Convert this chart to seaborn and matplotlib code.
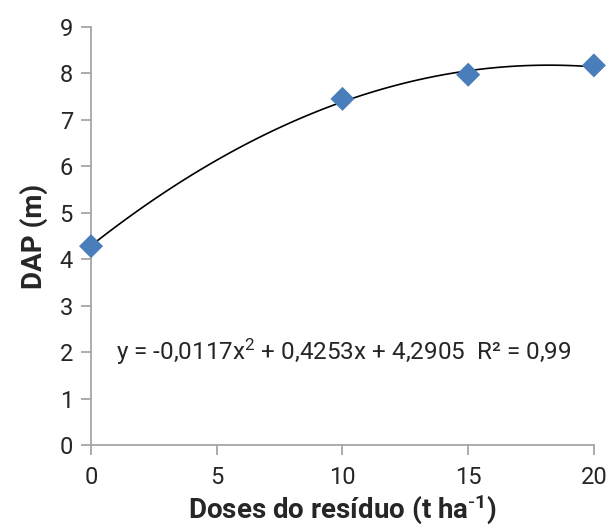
import matplotlib
matplotlib.use("Agg")
import matplotlib.pyplot as plt
import seaborn as sns
import pandas as pd

# Data
doses = [0, 10, 15, 20]
dap = [4.28, 7.45, 7.97, 8.17]
x_ticks = [0, 5, 10, 15, 20]
y_ticks = [0, 1, 2, 3, 4, 5, 6, 7, 8, 9]
equation = r"y = -0,0117x$\mathregular{^{2}}$ + 0,4253x + 4,2905  R² = 0,99"
x_label = r"Doses do resíduo (t ha$\mathregular{^{\text{-}1}}$)"
y_label = "DAP (m)"

sns.set_theme(style="white")
plt.rcParams["font.family"] = ["Roboto", "DejaVu Sans"]

df = pd.DataFrame({"dose": doses, "dap": dap})

fig = plt.figure(figsize=(6.11, 5.32), dpi=100)
ax = fig.add_axes([0.149, 0.1635, 0.823, 0.786])

sns.regplot(data=df, x="dose", y="dap", order=2, ci=None, ax=ax,
            marker="D",
            scatter_kws=dict(s=150, color="#4a7ebb", alpha=1, edgecolor="none", zorder=3, clip_on=False),
            line_kws=dict(color="black", lw=1.2, zorder=2))

ax.set_xlim(0, 20)
ax.set_ylim(0, 9)
ax.set_xticks(x_ticks)
ax.set_yticks(y_ticks)
gray = "#a6a6a6"
for s in ["top", "right"]:
    ax.spines[s].set_visible(False)
for s in ["left", "bottom"]:
    ax.spines[s].set_color(gray)
    ax.spines[s].set_linewidth(1.3)
ax.tick_params(axis="both", direction="out", length=7, width=1.3, color=gray,
               labelsize=17, labelcolor="#262626", pad=6)
ax.tick_params(axis="x", pad=8)
ax.tick_params(bottom=True, left=True)

ax.set_xlabel(x_label, fontsize=20, fontweight="bold", color="#262626", labelpad=2)
ax.set_ylabel(y_label, fontsize=20, fontweight="bold", color="#262626", labelpad=8)

ax.text(1.0, 2.0, equation, fontsize=17.5, color="#262626", va="center", ha="left")

fig.savefig("out.png", dpi=100)
